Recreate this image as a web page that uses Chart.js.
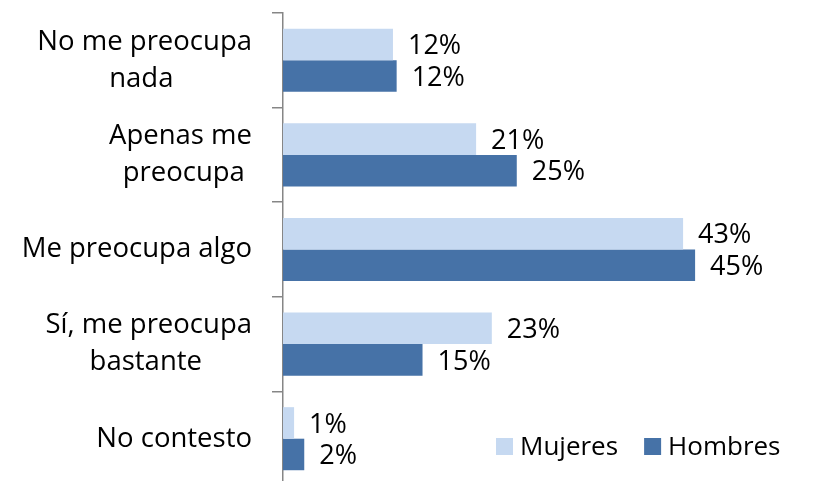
<!DOCTYPE html>
<html>
<head>
<meta charset="utf-8">
<script src="https://cdn.jsdelivr.net/npm/chart.js@4/dist/chart.umd.min.js"></script>
<style>
  html, body { margin: 0; padding: 0; background: #fff; overflow: hidden; }
  #wrap { position: relative; width: 825px; height: 486px; }
</style>
</head>
<body>
<div id="wrap"><canvas id="myChart"></canvas></div>
<script>
var categories = [
    ['No me preocupa', 'nada'],
    ['Apenas me', 'preocupa'],
    ['Me preocupa algo'],
    ['Sí, me preocupa', 'bastante'],
    ['No contesto']
];
var seriesNames = ['Mujeres', 'Hombres'];
var mujeres = [11.9, 20.9, 43.3, 22.6, 1.2];
var hombres = [12.3, 25.3, 44.6, 15.1, 2.3];
var colors = ['#C6D9F1', '#4672A7'];
var xMax = 50;

var FONT = '"Open Sans", sans-serif';
var FS = 27.5;

// pad shorter lines with trailing spaces so lines look centered under each other
var mctx = document.createElement('canvas').getContext('2d');
mctx.font = FS + 'px ' + FONT;
function centerLines(lines) {
    if (lines.length < 2) return lines;
    var sw = mctx.measureText(' ').width;
    var maxW = Math.max.apply(null, lines.map(function (l) { return mctx.measureText(l).width; }));
    return lines.map(function (l) {
        var n = Math.round((maxW - mctx.measureText(l).width) / 2 / sw);
        return l + ' '.repeat(n);
    });
}

// value labels at the end of every bar
var barLabels = {
    id: 'barLabels',
    afterDatasetsDraw: function (chart) {
        var ctx = chart.ctx;
        ctx.save();
        ctx.font = '27px ' + FONT;
        ctx.fillStyle = '#000';
        ctx.textAlign = 'left';
        ctx.textBaseline = 'middle';
        chart.data.datasets.forEach(function (ds, i) {
            chart.getDatasetMeta(i).data.forEach(function (bar, j) {
                ctx.fillText(Math.round(ds.data[j]) + '%', bar.x + 15, bar.y + 2);
            });
        });
        ctx.restore();
    }
};

// legend sitting inside the plot, bottom right
var innerLegend = {
    id: 'innerLegend',
    afterDraw: function (chart) {
        var ctx = chart.ctx;
        ctx.save();
        ctx.font = '26px ' + FONT;
        ctx.textBaseline = 'middle';
        ctx.textAlign = 'left';
        var x = 496, y = 447;
        chart.data.datasets.forEach(function (ds) {
            ctx.fillStyle = ds.backgroundColor;
            ctx.fillRect(x, y - 9, 17, 17);
            ctx.fillStyle = '#000';
            ctx.fillText(ds.label, x + 24, y + 1);
            x += 24 + ctx.measureText(ds.label).width + 26;
        });
        ctx.restore();
    }
};

Chart.defaults.font.family = FONT;
Chart.defaults.font.size = FS;
Chart.defaults.color = '#000';

var config1 = {
    type: 'bar',
    data: {
        labels: categories.map(centerLines),
        datasets: [
            { label: seriesNames[0], data: mujeres, backgroundColor: colors[0] },
            { label: seriesNames[1], data: hombres, backgroundColor: colors[1] }
        ]
    },
    options: {
        indexAxis: 'y',
        responsive: true,
        maintainAspectRatio: false,
        animation: false,
        categoryPercentage: 2 / 3,
        barPercentage: 1,
        layout: { padding: { top: 13, right: 80, bottom: 0, left: 0 } },
        plugins: {
            legend: { display: false },
            tooltip: { enabled: false }
        },
        scales: {
            x: {
                display: false,
                min: 0,
                max: xMax
            },
            y: {
                afterFit: function (scale) {
                    scale.width = 283;
                    scale.paddingTop = 0;
                    scale.paddingBottom = 0;
                },
                border: { color: '#868686', width: 1.5 },
                grid: {
                    drawOnChartArea: false,
                    drawTicks: true,
                    tickLength: 11,
                    color: '#868686',
                    lineWidth: 1.5
                },
                ticks: {
                    padding: 20,
                    color: '#000',
                    font: { size: FS, lineHeight: 1.35 }
                }
            }
        }
    },
    plugins: [barLabels, innerLegend]
};

var ctx1 = document.getElementById('myChart').getContext('2d');
var mychart1 = new Chart(ctx1, config1);
</script>
</body>
</html>
